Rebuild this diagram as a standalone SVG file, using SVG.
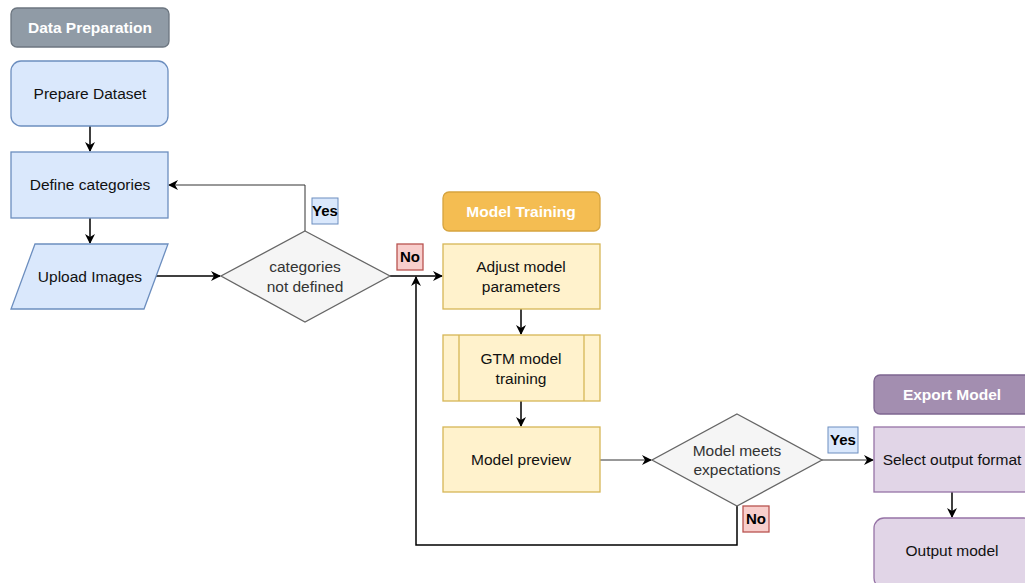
<svg xmlns="http://www.w3.org/2000/svg" width="1025" height="583" viewBox="0 0 1025 583">
<defs>
<marker id="arr" viewBox="0 0 10 10" refX="9" refY="5" markerWidth="10" markerHeight="10" markerUnits="userSpaceOnUse" orient="auto">
<path d="M0,0 L10,5 L0,10 L3,5 Z" fill="#000"/>
</marker>
<style>
text{font-family:"Liberation Sans",Arial,sans-serif;font-size:15.5px;text-anchor:middle;fill:#111}
.hdr{font-weight:bold;fill:#fff}
.lbl{font-weight:bold;fill:#000;font-size:15px}
.blue{fill:#dae8fc;stroke:#6c8ebf;stroke-width:1.3}
.yel{fill:#fff2cc;stroke:#d6b656;stroke-width:1.3}
.pur{fill:#e1d5e7;stroke:#9673a6;stroke-width:1.3}
.dia{fill:#f5f5f5;stroke:#666;stroke-width:1.3}
.dtxt{fill:#333}
.red{fill:#f8cecc;stroke:#b85450;stroke-width:1.3}
.c{fill:none;stroke:#000;stroke-width:1.5}
.t{fill:none;stroke:#333;stroke-width:1}
</style>
</defs>
<g id="connectors">
<path class="c" d="M90,126 V151" marker-end="url(#arr)"/>
<path class="c" d="M90,218 V243" marker-end="url(#arr)"/>
<path class="c" d="M156,276 H220" marker-end="url(#arr)"/>
<path class="t" d="M305,231 V185 H169" marker-end="url(#arr)"/>
<path class="c" d="M390,276 H442" marker-end="url(#arr)"/>
<path class="c" d="M521,309 V334" marker-end="url(#arr)"/>
<path class="c" d="M521,401 V426" marker-end="url(#arr)"/>
<path class="t" d="M600,460 H651" marker-end="url(#arr)"/>
<path class="t" d="M822,460 H873" marker-end="url(#arr)"/>
<path class="c" d="M737,506 V545 H416 V277" marker-end="url(#arr)"/>
<path class="c" d="M952,492 V517" marker-end="url(#arr)"/>
</g>
<g id="data-preparation">
<rect x="11" y="8" width="158" height="39" rx="6" fill="#909ba6" stroke="#6c7680" stroke-width="1.3"/>
<text class="hdr" x="90" y="33">Data Preparation</text>
</g>
<g id="prepare-dataset">
<rect class="blue" x="11" y="61" width="157" height="65" rx="10"/>
<text x="90" y="99">Prepare Dataset</text>
</g>
<g id="define-categories">
<rect class="blue" x="11" y="152" width="157" height="66"/>
<text x="90" y="190">Define categories</text>
</g>
<g id="upload-images">
<polygon class="blue" points="35,244 168,244 144,309 11,309"/>
<text x="90" y="282">Upload Images</text>
</g>
<g id="categories-not-defined">
<polygon class="dia" points="305,231 390,276 305,322 221,276"/>
<text class="dtxt" x="305" y="272">categories</text>
<text class="dtxt" x="305" y="292">not defined</text>
</g>
<g id="yes-label-1">
<rect x="312" y="198" width="26" height="26" fill="#dae8fc" stroke="#6c8ebf" stroke-width="1"/>
<text class="lbl" x="325" y="216">Yes</text>
</g>
<g id="no-label-1">
<rect class="red" x="397" y="244" width="26" height="26" stroke-width="1"/>
<text class="lbl" x="410" y="262">No</text>
</g>
<g id="model-training">
<rect x="443" y="192" width="157" height="39" rx="6" fill="#f4bd52" stroke="#d6a43f" stroke-width="1.3"/>
<text class="hdr" x="521" y="217">Model Training</text>
</g>
<g id="adjust-model-parameters">
<rect class="yel" x="443" y="244" width="157" height="65"/>
<text x="521" y="272">Adjust model</text>
<text x="521" y="292">parameters</text>
</g>
<g id="gtm-model-training">
<rect class="yel" x="443" y="335" width="157" height="66"/>
<line x1="459" y1="335" x2="459" y2="401" stroke="#d6b656" stroke-width="1.3"/>
<line x1="584" y1="335" x2="584" y2="401" stroke="#d6b656" stroke-width="1.3"/>
<text x="521" y="364">GTM model</text>
<text x="521" y="384">training</text>
</g>
<g id="model-preview">
<rect class="yel" x="443" y="427" width="157" height="65"/>
<text x="521" y="465">Model preview</text>
</g>
<g id="model-meets-expectations">
<polygon class="dia" points="737,414 822,460 737,506 652,460"/>
<text class="dtxt" x="737" y="456">Model meets</text>
<text class="dtxt" x="737" y="475">expectations</text>
</g>
<g id="yes-label-2">
<rect x="828" y="427" width="30" height="26" fill="#dae8fc" stroke="#6c8ebf" stroke-width="1"/>
<text class="lbl" x="843" y="445">Yes</text>
</g>
<g id="no-label-2">
<rect class="red" x="743" y="506" width="26" height="26" stroke-width="1"/>
<text class="lbl" x="756" y="524">No</text>
</g>
<g id="export-model">
<rect x="874" y="375" width="160" height="39" rx="6" fill="#a38eb0" stroke="#7d6590" stroke-width="1.3"/>
<text class="hdr" x="952" y="400">Export Model</text>
</g>
<g id="select-output-format">
<rect class="pur" x="874" y="427" width="160" height="65"/>
<text x="952" y="465">Select output format</text>
</g>
<g id="output-model">
<rect class="pur" x="874" y="518" width="160" height="70" rx="10"/>
<text x="952" y="556">Output model</text>
</g>
</svg>
